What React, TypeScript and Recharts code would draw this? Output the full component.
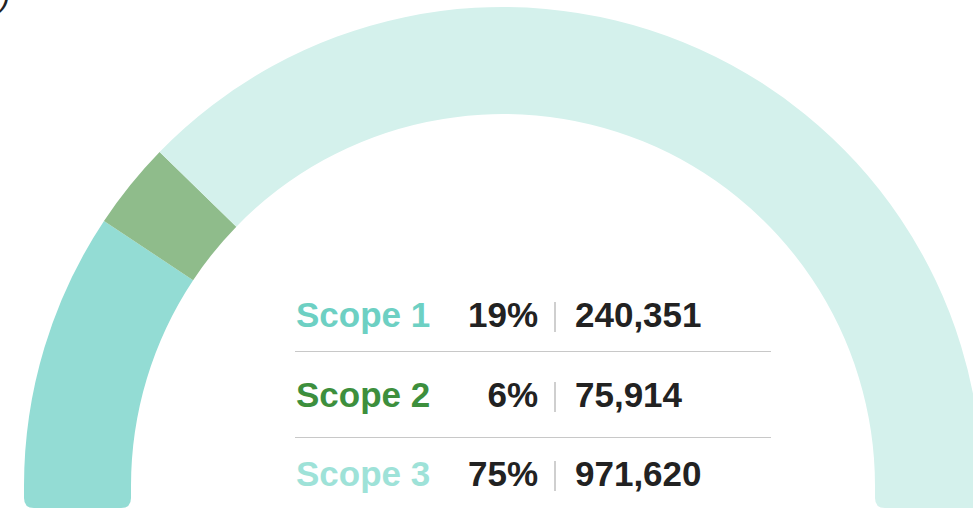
import { PieChart, Pie, Cell } from 'recharts';

const scopeNames = ['Scope 1', 'Scope 2', 'Scope 3'];
const scopeValues = [240351, 75914, 971620];
const scopeShares = [19, 6, 75];
const sliceColors = ['#93dcd4', '#8fbc8b', '#d4f1ec'];
const labelColors = ['#6dd0c3', '#3d8f3d', '#9ee2d8'];

const WIDTH = 973;
const HEIGHT = 510;
const CX = 503;
const CY = 486;
const INNER = 372;
const OUTER = 479;
const CAP_BOTTOM = 508;
const CAP_RADIUS = 10;

const FONT = '"Liberation Sans", Arial, sans-serif';

// straight foot under each end of the half ring, rounded at the bottom
function capPath(x0: number, x1: number) {
  const y0 = CY - 0.5;
  const y1 = CAP_BOTTOM;
  const r = CAP_RADIUS;
  return `M${x0},${y0} L${x0},${y1 - r} Q${x0},${y1} ${x0 + r},${y1} L${x1 - r},${y1} Q${x1},${y1} ${x1},${y1 - r} L${x1},${y0} Z`;
}

const rowTops = [295, 375, 454];

export default function App() {
  const chartData = scopeNames.map((name, i) => ({ name, value: scopeValues[i] }));

  return (
    <div
      style={{
        position: 'absolute',
        left: 0,
        top: 0,
        width: WIDTH,
        height: HEIGHT,
        overflow: 'hidden',
        background: '#fff',
        fontFamily: FONT,
      }}
    >
      <span
        style={{
          position: 'absolute',
          left: 0,
          top: -18,
          fontSize: 30,
          lineHeight: '30px',
          fontStyle: 'italic',
          color: '#222',
        }}
      >
        )
      </span>
      <svg width={WIDTH} height={HEIGHT} style={{ position: 'absolute', left: 0, top: 0 }}>
        <path d={capPath(CX - OUTER, CX - INNER)} fill={sliceColors[0]} />
        <path d={capPath(CX + INNER, CX + OUTER)} fill={sliceColors[2]} />
      </svg>
      <div style={{ position: 'absolute', left: 0, top: 0 }}>
        <PieChart width={WIDTH} height={HEIGHT} margin={{ top: 0, right: 0, bottom: 0, left: 0 }}>
          <Pie
            data={chartData}
            dataKey="value"
            nameKey="name"
            cx={CX}
            cy={CY}
            innerRadius={INNER}
            outerRadius={OUTER}
            startAngle={180}
            endAngle={0}
            stroke="none"
            isAnimationActive={false}
          >
            {chartData.map((d, i) => (
              <Cell key={d.name} fill={sliceColors[i]} />
            ))}
          </Pie>
        </PieChart>
      </div>

      {scopeNames.map((name, i) => (
        <div
          key={name}
          style={{
            position: 'absolute',
            left: 0,
            top: rowTops[i],
            height: 40,
            width: WIDTH,
            fontSize: 35,
            lineHeight: '40px',
            fontWeight: 700,
            whiteSpace: 'nowrap',
          }}
        >
          <span style={{ position: 'absolute', left: 296, color: labelColors[i] }}>{name}</span>
          <span style={{ position: 'absolute', right: WIDTH - 538, color: '#222' }}>
            {scopeShares[i]}%
          </span>
          <span
            style={{
              position: 'absolute',
              left: 554,
              top: 7,
              width: 2,
              height: 30,
              background: '#cfcfcf',
            }}
          />
          <span style={{ position: 'absolute', left: 575, color: '#222' }}>
            {scopeValues[i].toLocaleString('en-US')}
          </span>
        </div>
      ))}

      {[351, 437].map((y) => (
        <div
          key={y}
          style={{
            position: 'absolute',
            left: 295,
            top: y,
            width: 476,
            height: 1,
            background: '#c8c8c8',
          }}
        />
      ))}
    </div>
  );
}
